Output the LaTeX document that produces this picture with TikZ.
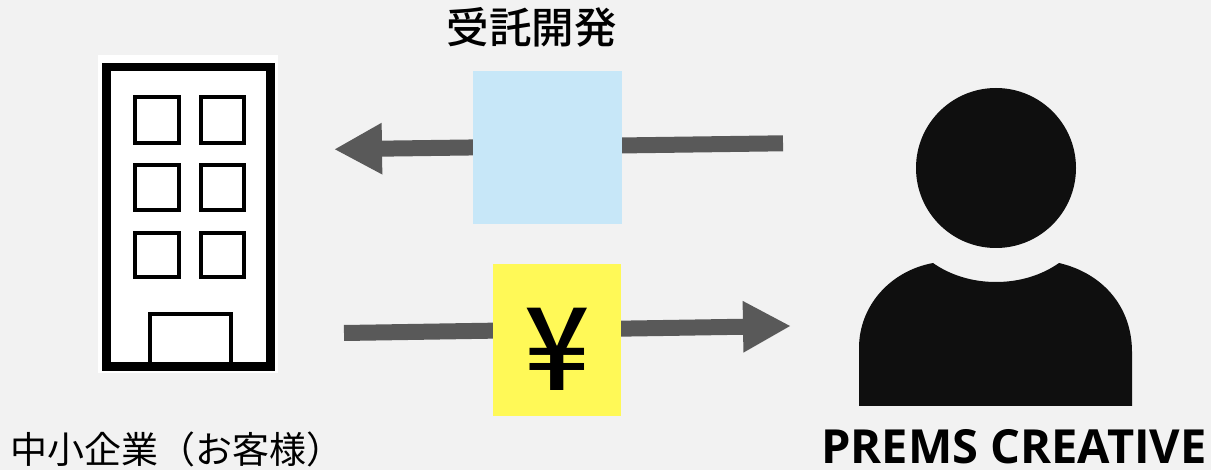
\documentclass[tikz,border=0pt]{standalone}
\usepackage{fontspec}
\usetikzlibrary{arrows.meta}
\newfontfamily\cjkm{Noto Sans CJK JP Medium}
\newfontfamily\cjkr{Noto Sans CJK JP}
\newfontfamily\yenfont{Noto Sans CJK JP Medium}
\newfontfamily\latinb{Open Sans}[BoldFont=* Bold]
\definecolor{bgc}{HTML}{F2F2F2}
\definecolor{arrowc}{HTML}{595959}
\definecolor{bluec}{HTML}{C7E7F8}
\definecolor{yellowc}{HTML}{FFF957}
\definecolor{personc}{HTML}{0F0F0F}
\tikzset{
  x=1pt,y=-1pt,
  flow/.style={draw=arrowc,line width=16pt,-{Triangle[length=48pt,width=48pt,fill=arrowc]}},
  card/.style={draw=none,inner sep=0pt,outer sep=0pt},
  wind/.style={draw=black,line width=4pt,fill=white},
  lab/.style={inner sep=0pt,outer sep=0pt,text=black},
}
\begin{document}
\begin{tikzpicture}
\fill[bgc] (0,0) rectangle (1211,470);
\useasboundingbox (0,0) rectangle (1211,470);
% building
\fill[white] (98,55) rectangle (278,373);
\draw[black,line width=8.5pt] (106.5,67) rectangle (270.5,366.5);
\foreach \xa/\xb in {135/179,201/244}{
  \foreach \ya/\yb in {97/143,165/210,233/277}{
    \draw[wind] (\xa,\ya) rectangle (\xb,\yb);
  }
}
\draw[black,line width=4pt] (149.5,362) -- (149.5,314.5) -- (231,314.5) -- (231,362);
% person
\fill[personc] (996,168) circle[radius=80];
\fill[personc] (859,406) -- (859,348) .. controls (859,306) and (890,271) .. (933,263)
  .. controls (950,275) and (972,282) .. (996,282)
  .. controls (1020,282) and (1042,275) .. (1059,263)
  .. controls (1102,273) and (1132,306) .. (1132,352) -- (1132,406) -- cycle;
% arrows
\coordinate (upstart) at (783,143.3);
\coordinate (uptip) at (334,149.3);
\coordinate (lowstart) at (344,333);
\coordinate (lowtip) at (791,326);
\draw[flow] (upstart) -- (uptip);
\draw[flow] (lowstart) -- (lowtip);
% boxes
\node[card,fill=bluec,minimum width=149pt,minimum height=153pt] (work) at (547.5,147.5) {};
\node[card,fill=yellowc,minimum width=128pt,minimum height=152pt] (pay) at (557,340) {};
\node[lab,anchor=base] (yen) at (557.5,391) {\yenfont\fontsize{115}{115}\selectfont ¥};
% labels
\node[lab,anchor=base] (t1) at (531.5,44) {\cjkm\fontsize{42.5}{42.5}\selectfont 受託開発};
\node[lab,anchor=base west] (t2) at (10.5,464) {\cjkr\fontsize{37}{37}\selectfont 中小企業（お客様）};
\node[lab,anchor=base] (t3) at (1014,464) {\latinb\bfseries\fontsize{47}{47}\selectfont PREMS CREATIVE};
\end{tikzpicture}
\end{document}
